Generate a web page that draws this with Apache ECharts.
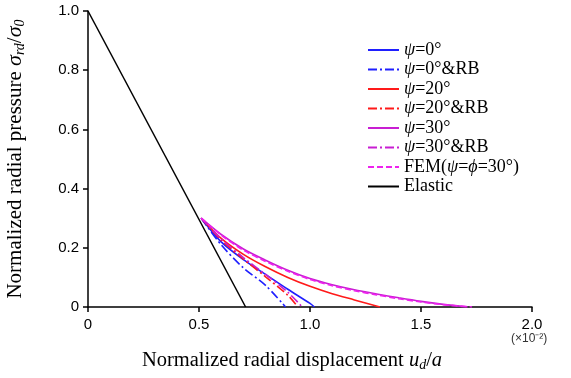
<!DOCTYPE html>
<html><head><meta charset="utf-8">
<script src="https://cdn.jsdelivr.net/npm/echarts@6/dist/echarts.min.js"></script>
<style>html,body{margin:0;padding:0;background:#fff}#c{width:571px;height:378px}</style>
</head><body><div id="c"></div>
<script>
// Data (x in units of 1e-2)
var xTicks = [0, 0.5, 1.0, 1.5, 2.0];
var yTicks = [0, 0.2, 0.4, 0.6, 0.8, 1.0];

var psi0X = [0.51, 0.6, 0.7, 0.8, 0.9, 1.0, 1.02];
var psi0Y = [0.30, 0.22, 0.16, 0.11, 0.06, 0.012, 0];

var psi0RbX = [0.51, 0.6, 0.7, 0.8, 0.89];
var psi0RbY = [0.30, 0.21, 0.132, 0.073, 0];

var psi20X = [0.51, 0.6, 0.7, 0.8, 0.9, 1.0, 1.1, 1.2, 1.315];
var psi20Y = [0.30, 0.232, 0.178, 0.136, 0.1, 0.07, 0.045, 0.024, 0];

var psi20RbX = [0.51, 0.6, 0.7, 0.8, 0.9, 0.945];
var psi20RbY = [0.30, 0.226, 0.162, 0.102, 0.04, 0];

var psi30X = [0.51, 0.6, 0.7, 0.8, 0.9, 1.0, 1.1, 1.2, 1.3, 1.4, 1.5, 1.6, 1.71];
var psi30Y = [0.30, 0.245, 0.196, 0.158, 0.124, 0.096, 0.075, 0.058, 0.044, 0.031, 0.019, 0.009, 0];

var psi30RbX = [0.51, 0.6, 0.7, 0.8, 0.9, 0.965];
var psi30RbY = [0.30, 0.23, 0.167, 0.11, 0.05, 0];

var femX = [0.51, 0.6, 0.7, 0.8, 0.9, 1.0, 1.1, 1.2, 1.3, 1.4, 1.5, 1.6, 1.73];
var femY = [0.30, 0.243, 0.192, 0.154, 0.121, 0.093, 0.072, 0.055, 0.041, 0.028, 0.017, 0.008, 0];

var elasticX = [0, 0.71];
var elasticY = [1.0, 0];

function pairs(xs, ys) { return xs.map(function (x, i) { return [x, ys[i]]; }); }

var serif = '"Liberation Serif", "Times New Roman", serif';
var sans = '"Liberation Sans", Arial, sans-serif';
var dashDot = [9, 3, 2, 3];

function ser(name, xs, ys, color, type, width) {
  return {
    name: name, type: 'line', data: pairs(xs, ys), symbol: 'none', smooth: 0.3,
    lineStyle: { color: color, width: width || 1.6, type: type },
    itemStyle: { color: color }, animation: false
  };
}

var chart = echarts.init(document.getElementById('c'), null, { renderer: 'canvas' });
chart.setOption({
  animation: false,
  grid: { left: 88, right: 39, top: 11, bottom: 71, containLabel: false, outerBoundsMode: 'none' },
  legend: {
    orient: 'vertical', left: 362, top: 36, itemWidth: 31, itemHeight: 12, itemGap: 1.5,
    itemStyle: { opacity: 0 },
    textStyle: {
      fontFamily: serif, fontSize: 18, color: '#000', lineHeight: 16,
      rich: { i: { fontFamily: serif, fontSize: 18, fontStyle: 'italic', color: '#000', lineHeight: 16 } }
    },
    formatter: function (n) {
      var m = {
        'p0': '{i|ψ}=0°', 'p0rb': '{i|ψ}=0°&RB', 'p20': '{i|ψ}=20°', 'p20rb': '{i|ψ}=20°&RB',
        'p30': '{i|ψ}=30°', 'p30rb': '{i|ψ}=30°&RB', 'fem': 'FEM({i|ψ}={i|ϕ}=30°)', 'el': 'Elastic'
      };
      return m[n];
    },
    data: ['p0', 'p0rb', 'p20', 'p20rb', 'p30', 'p30rb', 'fem', 'el']
  },
  xAxis: {
    type: 'value', min: 0, max: 2, interval: 0.5,
    axisLine: { lineStyle: { color: '#000', width: 1.5 } },
    axisTick: { show: true, inside: false, length: 5, lineStyle: { color: '#000', width: 1.5 } },
    splitLine: { show: false },
    axisLabel: { color: '#000', fontFamily: sans, fontSize: 15, margin: 10,
      formatter: function (v) { return v === 0 ? '0' : v.toFixed(1); } },
    name: 'Normalized radial displacement {i|u}{sub|d}/{i|a}',
    nameLocation: 'middle', nameGap: 42,
    nameTextStyle: {
      color: '#000', fontFamily: serif, fontSize: 20.5, padding: [0, 36, 0, 0],
      rich: {
        i: { fontFamily: serif, fontSize: 20.5, fontStyle: 'italic', color: '#000' },
        sub: { fontFamily: serif, fontSize: 14, fontStyle: 'italic', color: '#000', padding: [9, 0, 0, 0] }
      }
    }
  },
  yAxis: {
    type: 'value', min: 0, max: 1, interval: 0.2,
    axisLine: { lineStyle: { color: '#000', width: 1.5 } },
    axisTick: { show: true, inside: false, length: 5, lineStyle: { color: '#000', width: 1.5 } },
    splitLine: { show: false },
    axisLabel: { color: '#000', fontFamily: sans, fontSize: 15, margin: 9,
      formatter: function (v) { return v === 0 ? '0' : v.toFixed(1); } },
    name: 'Normalized radial pressure {i|σ}{sub|rd}/{i|σ}{sub|0}',
    nameLocation: 'middle', nameGap: 61, nameRotate: 90,
    nameTextStyle: {
      color: '#000', fontFamily: serif, fontSize: 21,
      rich: {
        i: { fontFamily: serif, fontSize: 22, fontStyle: 'italic', color: '#000' },
        sub: { fontFamily: serif, fontSize: 14, fontStyle: 'italic', color: '#000', padding: [9, 0, 0, 0] }
      }
    }
  },
  graphic: [{
    type: 'text', left: 511, top: 333,
    style: { text: '(×10⁻²)', fontFamily: sans, fontSize: 12, fill: '#333' }
  }],
  series: [
    ser('p0', psi0X, psi0Y, '#1f1fff', 'solid'),
    ser('p0rb', psi0RbX, psi0RbY, '#1f1fff', dashDot),
    ser('p20', psi20X, psi20Y, '#ff1a1a', 'solid'),
    ser('p20rb', psi20RbX, psi20RbY, '#ff1a1a', dashDot),
    ser('p30', psi30X, psi30Y, '#c81ed2', 'solid'),
    ser('p30rb', psi30RbX, psi30RbY, '#c81ed2', dashDot),
    ser('fem', femX, femY, '#ee22ee', [6, 3]),
    ser('el', elasticX, elasticY, '#000', 'solid', 1.5)
  ]
});
</script></body></html>
